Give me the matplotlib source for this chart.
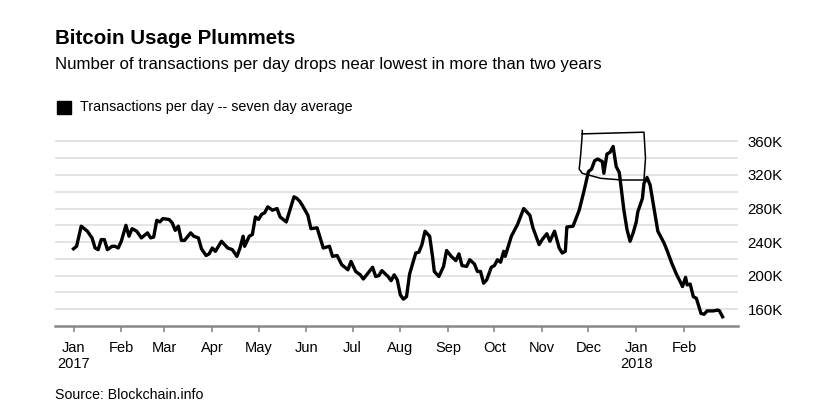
import numpy as np
import matplotlib.pyplot as plt
from matplotlib.ticker import FuncFormatter

plt.rcParams['font.family'] = ['Liberation Sans', 'DejaVu Sans']

# days after 2017-01-01, transactions per day (thousands), 7-day average
days = [0, 2, 5, 9, 12, 14, 16, 18, 20, 22, 25, 27, 29, 31, 34, 36, 38, 41, 44, 48,
        50, 52, 54, 56, 58, 62, 64, 66, 68, 70, 72, 76, 78, 81, 83, 86, 88, 90, 92, 96,
        100, 103, 106, 108, 110, 111, 114, 116, 118, 120, 122, 124, 126, 129, 132, 134,
        138, 143, 145, 147, 149, 152, 154, 158, 162, 166, 168, 171, 174, 178, 180, 183,
        186, 188, 194, 196, 198, 200, 204, 206, 208, 210, 212, 214, 216, 218, 222, 224,
        226, 228, 231, 233, 234, 237, 240, 242, 245, 248, 250, 252, 255, 257, 260, 262,
        264, 266, 268, 271, 273, 275, 277, 279, 280, 284, 288, 292, 296, 298, 302, 304,
        307, 309, 312, 315, 317, 319, 320, 324, 328, 331, 334, 336, 338, 340, 343, 344,
        346, 348, 350, 352, 354, 357, 359, 361, 363, 365, 366, 369, 370, 372, 374, 376,
        379, 383, 385, 388, 391, 394, 395, 397, 398, 400, 402, 404, 407, 409, 411, 415,
        418, 419, 421]
tx_k = [232, 235, 259, 253, 245, 233, 231, 243, 243, 231, 235, 235, 233, 241, 260, 247,
        256, 253, 245, 251, 245, 246, 266, 264, 268, 267, 263, 254, 259, 242, 242, 251,
        247, 245, 232, 224, 226, 233, 229, 241, 233, 231, 223, 233, 247, 235, 247, 249,
        270, 267, 273, 275, 282, 278, 280, 270, 264, 294, 292, 288, 282, 272, 256, 257,
        233, 235, 223, 224, 213, 207, 217, 205, 201, 196, 210, 199, 200, 206, 199, 194,
        201, 195, 177, 172, 175, 202, 227, 228, 237, 253, 247, 221, 205, 199, 211, 230,
        223, 218, 226, 212, 211, 219, 214, 205, 205, 191, 195, 210, 212, 219, 216, 229,
        223, 247, 261, 280, 272, 257, 237, 243, 250, 241, 253, 233, 227, 229, 258, 259,
        278, 300, 324, 327, 337, 339, 336, 322, 345, 347, 354, 330, 323, 278, 255, 241,
        251, 264, 276, 292, 310, 317, 308, 286, 253, 239, 230, 215, 202, 191, 187, 198,
        189, 190, 175, 173, 155, 154, 158, 158, 159, 158, 151]

# hand-drawn box around the December peak
box_days = [330, 329, 328.5, 330, 342, 356, 370.5, 371, 370, 330, 329.5]
box_vals = [369, 345, 327, 322, 316, 314, 314, 340, 371, 369, 373]

month_labels = ['Jan\n2017', 'Feb', 'Mar', 'Apr', 'May', 'Jun', 'Jul', 'Aug',
                'Sep', 'Oct', 'Nov', 'Dec', 'Jan\n2018', 'Feb']

start = np.datetime64('2017-01-01')
dates = start + np.array(days)
box_dates = start + np.array(box_days, dtype=float).round().astype(int)

fig = plt.figure(figsize=(8.19, 4.17), dpi=100)
ax = fig.add_axes([55 / 819, 91 / 417, 683 / 819, 198 / 417])

ax.plot(dates, tx_k, color='black', lw=2.4, solid_joinstyle='round')
ax.plot(box_dates, box_vals, color='black', lw=1.1)

ax.set_xlim(np.datetime64('2016-12-20'), np.datetime64('2018-03-08'))
ax.set_ylim(140, 376)

ticks = np.arange(np.datetime64('2017-01'), np.datetime64('2018-03'),
                  dtype='datetime64[M]').astype('datetime64[D]')
ax.set_xticks(ticks)
ax.set_xticklabels(month_labels)
ax.tick_params(axis='x', length=4, width=1.2, color='#888888', pad=7,
               labelsize=10.5, labelcolor='black')

ax.yaxis.tick_right()
ax.set_yticks(np.arange(160, 361, 40))
ax.set_yticks(np.arange(180, 361, 40), minor=True)
ax.yaxis.set_major_formatter(FuncFormatter(lambda v, p: f'{int(v)}K'))
ax.tick_params(axis='y', which='both', length=0, pad=7, labelsize=10.8)
ax.grid(axis='y', which='both', color='#dddddd', lw=1.1)
ax.set_axisbelow(True)

for s in ['top', 'left', 'right']:
    ax.spines[s].set_visible(False)
ax.spines['bottom'].set_color('#888888')
ax.spines['bottom'].set_linewidth(1.8)

fig.text(55 / 819, 1 - 38 / 417, 'Bitcoin Usage Plummets', fontsize=14.8,
         fontweight='bold', va='center', ha='left')
fig.text(55 / 819, 1 - 65 / 417,
         'Number of transactions per day drops near lowest in more than two years',
         fontsize=12.1, va='center', ha='left')
fig.patches.append(plt.Rectangle((57 / 819, 1 - 113.5 / 417), 13.5 / 819, 12.5 / 417,
                                 color='black', transform=fig.transFigure))
fig.text(80 / 819, 1 - 107 / 417, 'Transactions per day -- seven day average',
         fontsize=10.3, va='center', ha='left')
fig.text(55 / 819, 1 - 395 / 417, 'Source: Blockchain.info', fontsize=10.2,
         va='center', ha='left')

fig.savefig('out.png', dpi=100)
